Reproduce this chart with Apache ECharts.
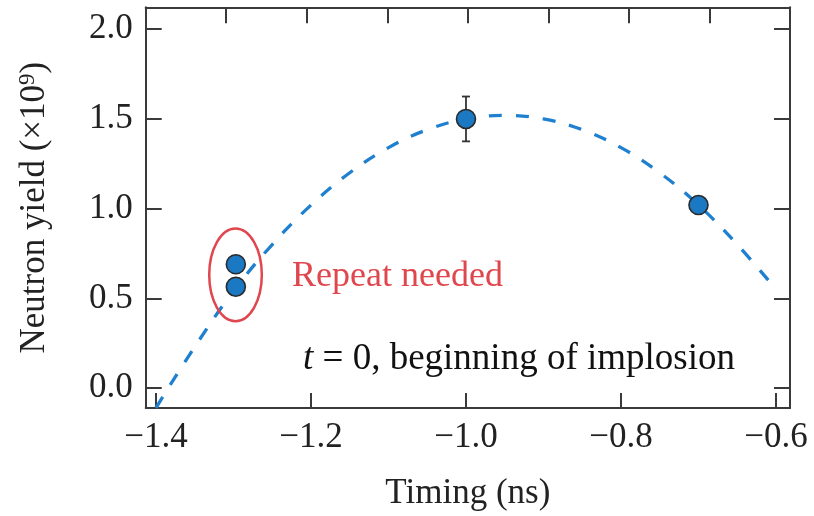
<!DOCTYPE html>
<html>
<head>
<meta charset="utf-8">
<script src="https://cdn.jsdelivr.net/npm/echarts@6/dist/echarts.min.js"></script>
<style>
  html, body { margin: 0; padding: 0; background: #fff; }
  #chart { width: 814px; height: 516px; }
</style>
</head>
<body>
<div id="chart"></div>
<script>
// Shot timing vs. measured neutron yield
var shotTiming = [-1.297, -1.297, -1.0, -0.70];
var shotYield  = [0.69, 0.565, 1.50, 1.02];

// Uncertainty on the -1.0 ns shot
var errTiming = [-1.0];
var errLow    = [1.375];
var errHigh   = [1.625];

// Fitted trend (dashed)
var fitTiming = [-1.40, -1.35, -1.30, -1.25, -1.20, -1.15, -1.10, -1.05, -1.00,
                 -0.95, -0.90, -0.85, -0.80, -0.75, -0.70, -0.65, -0.60];
var fitYield  = [-0.11, 0.23, 0.54, 0.80, 1.02, 1.20, 1.34, 1.44, 1.50,
                 1.52, 1.50, 1.44, 1.34, 1.20, 1.02, 0.80, 0.55];

// Axis ticks
var xTicks = [-1.4, -1.2, -1.0, -0.8, -0.6];
var yTicks = [0.0, 0.5, 1.0, 1.5, 2.0];

var X_MIN = -1.4133, X_MAX = -0.5819;
var Y_MIN = -0.1112, Y_MAX = 2.1223;

var FONT = '"Liberation Serif", "DejaVu Serif", serif';
var INK = '#222';
var FRAME = '#3a3a3a';
var BLUE = '#1b78c2';
var RED = '#e0464d';

function minus(v) { return String(v).replace('-', '\u2212'); }

var chart = echarts.init(document.getElementById('chart'), null, { renderer: 'canvas' });

var frameLine = { show: true, onZero: false, lineStyle: { color: FRAME, width: 2 } };
var tickStyle = { show: true, inside: true, length: 16, lineStyle: { color: FRAME, width: 2 } };

chart.setOption({
  animation: false,
  grid: { left: 145.7, right: 24, top: 7.3, bottom: 107, containLabel: false },
  xAxis: [{
    type: 'value', position: 'bottom', min: X_MIN, max: X_MAX,
    axisLine: frameLine,
    axisTick: Object.assign({}, tickStyle, { length: 15, customValues: xTicks }),
    axisLabel: {
      customValues: xTicks, margin: 12, color: INK, fontFamily: FONT, fontSize: 35,
      formatter: function (v) { return minus(v.toFixed(1)); }
    },
    splitLine: { show: false },
    name: 'Timing (ns)', nameLocation: 'middle', nameGap: 68,
    nameTextStyle: { color: INK, fontFamily: FONT, fontSize: 35 }
  }, {
    type: 'value', position: 'top', min: 0, max: 8, interval: 1,
    axisLine: frameLine, axisTick: tickStyle,
    axisLabel: { show: false }, splitLine: { show: false }
  }],
  yAxis: [{
    type: 'value', position: 'left', min: Y_MIN, max: Y_MAX,
    axisLine: frameLine,
    axisTick: Object.assign({}, tickStyle, { customValues: yTicks }),
    axisLabel: {
      customValues: yTicks, margin: 13, color: INK, fontFamily: FONT, fontSize: 35,
      formatter: function (v) { return minus(v.toFixed(1)); }
    },
    splitLine: { show: false },
    name: 'Neutron yield (\u00d710{sup|9})', nameLocation: 'middle', nameGap: 92,
    nameRotate: 90,
    nameTextStyle: {
      color: INK, fontFamily: FONT, fontSize: 35,
      rich: { sup: { fontFamily: FONT, fontSize: 23, color: INK, verticalAlign: 'top', padding: [0, 0, 14, 0] } }
    }
  }, {
    type: 'value', position: 'right', min: Y_MIN, max: Y_MAX,
    axisLine: frameLine,
    axisTick: Object.assign({}, tickStyle, { customValues: yTicks }),
    axisLabel: { show: false }, splitLine: { show: false }
  }],
  series: [{
    name: 'fit', type: 'line', xAxisIndex: 0, yAxisIndex: 0,
    data: fitTiming.map(function (t, i) { return [t, fitYield[i]]; }),
    smooth: 0.4, showSymbol: false, silent: true, z: 2,
    lineStyle: { color: '#1f80d0', width: 3.3, type: [13, 14] }
  }, {
    name: 'error', type: 'custom', xAxisIndex: 0, yAxisIndex: 0, z: 3, silent: true,
    data: errTiming.map(function (t, i) { return [t, errLow[i], errHigh[i]]; }),
    renderItem: function (params, api) {
      var lo = api.coord([api.value(0), api.value(1)]);
      var hi = api.coord([api.value(0), api.value(2)]);
      var cap = 4;
      var st = { stroke: '#333', lineWidth: 1.8 };
      return { type: 'group', children: [
        { type: 'line', shape: { x1: lo[0], y1: lo[1], x2: hi[0], y2: hi[1] }, style: st },
        { type: 'line', shape: { x1: lo[0] - cap, y1: lo[1], x2: lo[0] + cap, y2: lo[1] }, style: st },
        { type: 'line', shape: { x1: hi[0] - cap, y1: hi[1], x2: hi[0] + cap, y2: hi[1] }, style: st }
      ]};
    }
  }, {
    name: 'shots', type: 'scatter', xAxisIndex: 0, yAxisIndex: 0, z: 4,
    data: shotTiming.map(function (t, i) { return [t, shotYield[i]]; }),
    symbol: 'circle', symbolSize: 19,
    itemStyle: { color: BLUE, borderColor: '#2a2a2a', borderWidth: 1.6, opacity: 1 }
  }]
});

// Annotations anchored in data coordinates
function px(t, y) { return chart.convertToPixel({ xAxisIndex: 0, yAxisIndex: 0 }, [t, y]); }
var ring = px(-1.2974, 0.631);
var note1 = px(-1.2245, 0.623);
var note2 = px(-1.2103, 0.161);

chart.setOption({
  graphic: [{
    type: 'ellipse', z: 10, silent: true,
    shape: { cx: ring[0], cy: ring[1], rx: 26.3, ry: 46.3 },
    style: { fill: 'none', stroke: RED, lineWidth: 2.5 }
  }, {
    type: 'text', z: 10, silent: true, x: note1[0], y: note1[1],
    style: { text: 'Repeat needed', fill: RED, font: '36px ' + FONT, textVerticalAlign: 'middle', textAlign: 'left' }
  }, {
    type: 'text', z: 10, silent: true, x: note2[0], y: note2[1],
    style: {
      text: '{it|t} = 0, beginning of implosion',
      fill: '#111', font: '37px ' + FONT, textVerticalAlign: 'middle', textAlign: 'left',
      rich: { it: { fontStyle: 'italic', fontFamily: FONT, fontSize: 37, fill: '#111' } }
    }
  }]
});
</script>
</body>
</html>
